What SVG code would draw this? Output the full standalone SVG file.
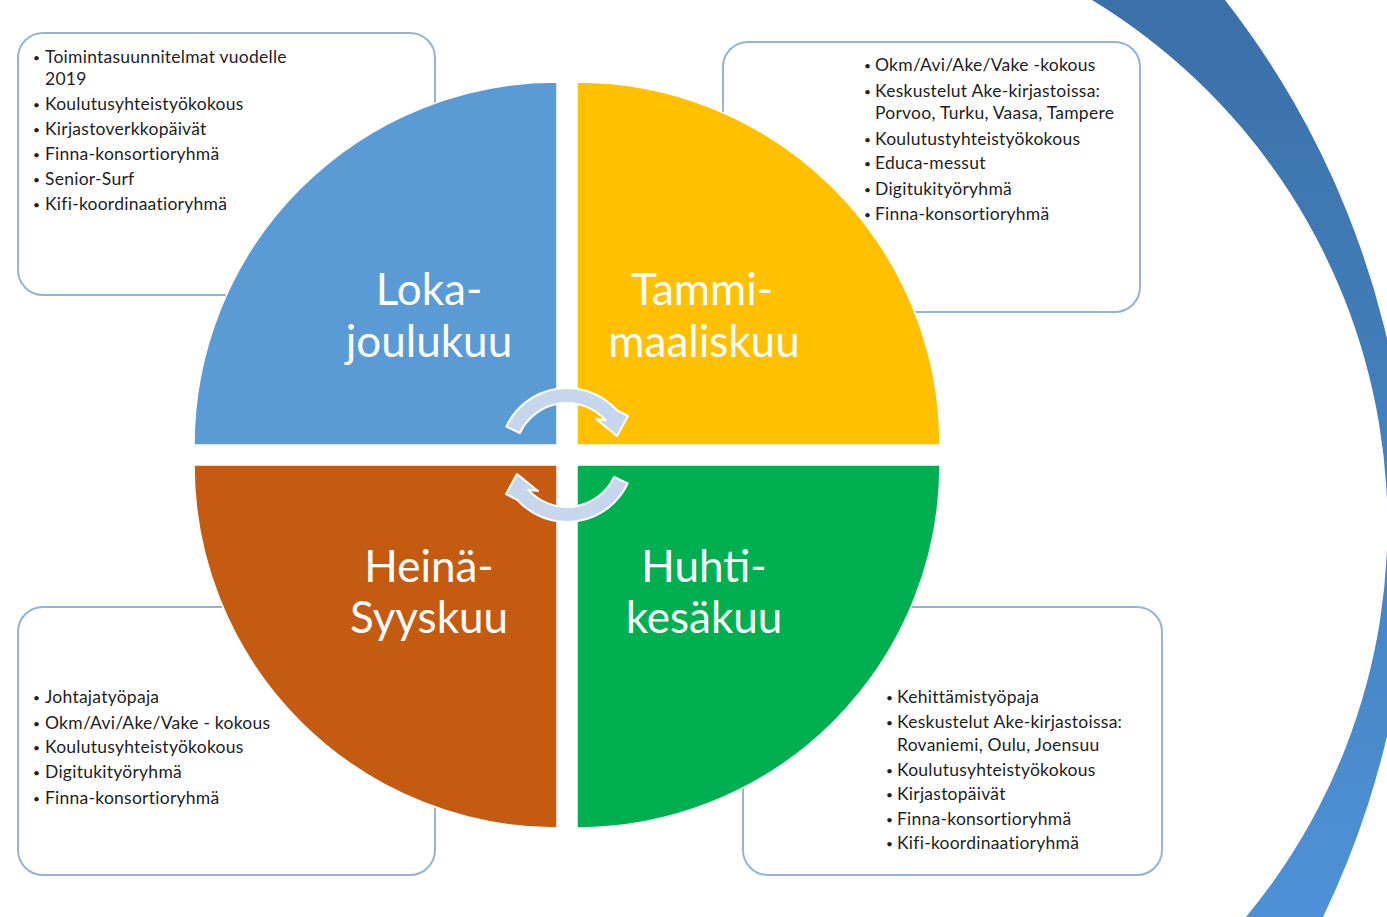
<svg xmlns="http://www.w3.org/2000/svg" width="1387" height="917" viewBox="0 0 1387 917">
<defs>
<style>
.box{fill:#ffffff;stroke:#95b3d7;stroke-width:2}
.t{font-family:Lato,"Open Sans","Liberation Sans",sans-serif;font-size:17.5px;letter-spacing:0.25px;fill:#1e1e1e}
.b{font-size:12px}
.big{font-family:Lato,"Open Sans","Liberation Sans",sans-serif;font-size:44px;fill:#ffffff;text-anchor:middle}
.q{stroke:#ffffff;stroke-width:1.5}
.arr{fill:#c6d6ec;stroke:#ffffff;stroke-width:2;stroke-linejoin:round}
</style>
<linearGradient id="band" x1="0" y1="0" x2="0" y2="1">
<stop offset="0" stop-color="#3b70a8"/>
<stop offset="1" stop-color="#4d92d6"/>
</linearGradient>
</defs>
<rect width="1387" height="917" fill="#ffffff"/>
<g id="ring">
<path d="M1092,0 L1225,0 A873,873 0 0,1 1323,917 L1246,917 A614,614 0 0,0 1092,0 Z" fill="url(#band)"/>
</g>
<g id="box-tl">
<rect class="box" x="18" y="33" width="417" height="262" rx="25"/>
<text class="t" y="63"><tspan class="b" x="33" dy="-1">•</tspan><tspan x="45" dy="1">Toimintasuunnitelmat vuodelle</tspan></text>
<text class="t" x="45" y="85">2019</text>
<text class="t" y="110"><tspan class="b" x="33" dy="-1">•</tspan><tspan x="45" dy="1">Koulutusyhteistyökokous</tspan></text>
<text class="t" y="135"><tspan class="b" x="33" dy="-1">•</tspan><tspan x="45" dy="1">Kirjastoverkkopäivät</tspan></text>
<text class="t" y="160"><tspan class="b" x="33" dy="-1">•</tspan><tspan x="45" dy="1">Finna-konsortioryhmä</tspan></text>
<text class="t" y="185"><tspan class="b" x="33" dy="-1">•</tspan><tspan x="45" dy="1">Senior-Surf</tspan></text>
<text class="t" y="210"><tspan class="b" x="33" dy="-1">•</tspan><tspan x="45" dy="1">Kifi-koordinaatioryhmä</tspan></text>
</g>
<g id="box-tr">
<rect class="box" x="723" y="42" width="417" height="270" rx="25"/>
<text class="t" y="71"><tspan class="b" x="864" dy="-1">•</tspan><tspan x="875" dy="1">Okm/Avi/Ake/Vake -kokous</tspan></text>
<text class="t" y="97"><tspan class="b" x="864" dy="-1">•</tspan><tspan x="875" dy="1">Keskustelut Ake-kirjastoissa:</tspan></text>
<text class="t" x="875" y="119">Porvoo, Turku, Vaasa, Tampere</text>
<text class="t" y="145"><tspan class="b" x="864" dy="-1">•</tspan><tspan x="875" dy="1">Koulutustyhteistyökokous</tspan></text>
<text class="t" y="169"><tspan class="b" x="864" dy="-1">•</tspan><tspan x="875" dy="1">Educa-messut</tspan></text>
<text class="t" y="195"><tspan class="b" x="864" dy="-1">•</tspan><tspan x="875" dy="1">Digitukityöryhmä</tspan></text>
<text class="t" y="220"><tspan class="b" x="864" dy="-1">•</tspan><tspan x="875" dy="1">Finna-konsortioryhmä</tspan></text>
</g>
<g id="box-bl">
<rect class="box" x="18" y="607" width="417" height="268" rx="25"/>
<text class="t" y="703"><tspan class="b" x="33" dy="-1">•</tspan><tspan x="45" dy="1">Johtajatyöpaja</tspan></text>
<text class="t" y="729"><tspan class="b" x="33" dy="-1">•</tspan><tspan x="45" dy="1">Okm/Avi/Ake/Vake - kokous</tspan></text>
<text class="t" y="753"><tspan class="b" x="33" dy="-1">•</tspan><tspan x="45" dy="1">Koulutusyhteistyökokous</tspan></text>
<text class="t" y="778"><tspan class="b" x="33" dy="-1">•</tspan><tspan x="45" dy="1">Digitukityöryhmä</tspan></text>
<text class="t" y="804"><tspan class="b" x="33" dy="-1">•</tspan><tspan x="45" dy="1">Finna-konsortioryhmä</tspan></text>
</g>
<g id="box-br">
<rect class="box" x="743" y="607" width="419" height="268" rx="25"/>
<text class="t" y="703"><tspan class="b" x="886" dy="-1">•</tspan><tspan x="897" dy="1">Kehittämistyöpaja</tspan></text>
<text class="t" y="728"><tspan class="b" x="886" dy="-1">•</tspan><tspan x="897" dy="1">Keskustelut Ake-kirjastoissa:</tspan></text>
<text class="t" x="897" y="751">Rovaniemi, Oulu, Joensuu</text>
<text class="t" y="776"><tspan class="b" x="886" dy="-1">•</tspan><tspan x="897" dy="1">Koulutusyhteistyökokous</tspan></text>
<text class="t" y="800"><tspan class="b" x="886" dy="-1">•</tspan><tspan x="897" dy="1">Kirjastopäivät</tspan></text>
<text class="t" y="825"><tspan class="b" x="886" dy="-1">•</tspan><tspan x="897" dy="1">Finna-konsortioryhmä</tspan></text>
<text class="t" y="849"><tspan class="b" x="886" dy="-1">•</tspan><tspan x="897" dy="1">Kifi-koordinaatioryhmä</tspan></text>
</g>
<g id="q-loka">
<path class="q" d="M557,445 L194,445 A363,363 0 0,1 557,82 Z" fill="#5b9bd5"/>
<text class="big" x="429" y="305">Loka-</text>
<text class="big" x="429" y="357">joulukuu</text>
</g>
<g id="q-tammi">
<path class="q" d="M577,445 L577,82 A363,363 0 0,1 940,445 Z" fill="#ffc000"/>
<text class="big" x="702" y="305">Tammi-</text>
<text class="big" x="704" y="357">maaliskuu</text>
</g>
<g id="q-heina">
<path class="q" d="M557,465 L557,828 A363,363 0 0,1 194,465 Z" fill="#c55a11"/>
<text class="big" x="429" y="582">Heinä-</text>
<text class="big" x="429" y="633">Syyskuu</text>
</g>
<g id="q-huhti">
<path class="q" d="M577,465 L940,465 A363,363 0 0,1 577,828 Z" fill="#00b050"/>
<text class="big" x="704" y="582">Huhti-</text>
<text class="big" x="704" y="633">kesäkuu</text>
</g>
<g id="connectors">
<path class="arr" d="M506.3,426.7 A67,67 0 0,1 616.8,410.2 L628,416 L617,436 L596,419 L605.6,420.2 A52,52 0 0,0 519.9,433 Z"/>
<path class="arr" transform="rotate(180 567 455)" d="M506.3,426.7 A67,67 0 0,1 616.8,410.2 L628,416 L617,436 L596,419 L605.6,420.2 A52,52 0 0,0 519.9,433 Z"/>
</g>
</svg>
